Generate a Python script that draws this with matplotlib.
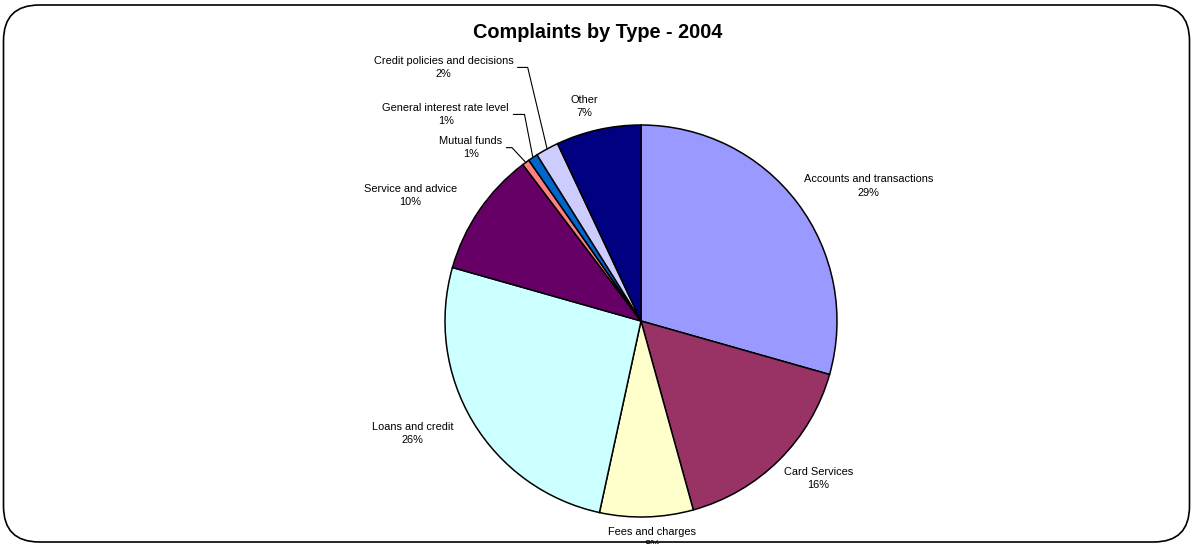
import numpy as np
import matplotlib
matplotlib.use("Agg")
import matplotlib.pyplot as plt
from matplotlib.patches import FancyBboxPatch

plt.rcParams["font.family"] = ["Liberation Sans", "DejaVu Sans"]

# data
categories = ["Accounts and transactions", "Card Services", "Fees and charges",
              "Loans and credit", "Service and advice", "Mutual funds",
              "General interest rate level", "Credit policies and decisions", "Other"]
values = [29.4, 16.3, 7.7, 26.0, 10.3, 0.6, 0.8, 1.9, 7.0]
colors = ["#9999FF", "#993366", "#FFFFCC", "#CCFFFF", "#660066",
          "#FF8080", "#0066CC", "#CCCCFF", "#000080"]

# label placement: radius factor and angle tweak (deg) from slice middle
label_r = [1.35, 1.21, 1.11, 1.30, 1.34, 1.24, 1.45, 1.64, 1.13]
label_dang = [-6.4, 3.6, 1.4, -4.7, 5.9, 8.5, 9.9, 9.3, 2.1]
leader = [False, False, False, False, False, True, True, True, False]
leader_angle = [0, 0, 0, 0, 0, -47, -79, -76.6, 0]

W, H = 1193, 544
fig = plt.figure(figsize=(W / 100, H / 100), dpi=100)
ax = fig.add_axes([0, 0, 1, 1])

# rounded border
fig.patches.append(FancyBboxPatch((3.5 / W, 2.0 / H), (1186 / W), (537 / H),
                                  boxstyle="round,pad=0,rounding_size=0.03",
                                  transform=fig.transFigure, fill=False,
                                  edgecolor="black", linewidth=1.2, mutation_aspect=W / H))

cx, cy, R = 641, H - 321, 196
wedges, _ = ax.pie(values, colors=colors, startangle=90, counterclock=False,
                   center=(cx, cy), radius=R, frame=True,
                   wedgeprops=dict(edgecolor="black", linewidth=1.1))
ax.set_xlim(0, W)
ax.set_ylim(0, H)
ax.set_aspect("equal")
ax.axis("off")

total = sum(values)
for i, w in enumerate(wedges):
    mid = (w.theta1 + w.theta2) / 2
    pct = round(values[i] / total * 100)
    txt = f"{categories[i]}\n{pct}%"
    a = np.deg2rad(mid + label_dang[i])
    tx = cx + R * label_r[i] * np.cos(a)
    ty = cy + R * label_r[i] * np.sin(a)
    if leader[i]:
        m = np.deg2rad(mid)
        ex, ey = cx + R * np.cos(m), cy + R * np.sin(m)
        ax.annotate(txt, xy=(ex, ey), xytext=(tx, ty), ha="center", va="center",
                    fontsize=7.9, linespacing=1.4,
                    arrowprops=dict(arrowstyle="-", lw=0.8, color="black",
                                    shrinkA=1, shrinkB=0, relpos=(1, 0.5),
                                    connectionstyle=f"angle,angleA=0,angleB={leader_angle[i]},rad=0"))
    else:
        ax.text(tx, ty, txt, ha="center", va="center", fontsize=7.9, linespacing=1.4)

ax.text(W / 2 + 1, H - 33, "Complaints by Type - 2004", ha="center", va="center",
        fontsize=14.3, fontweight="bold")

fig.savefig("out.png", dpi=100)
